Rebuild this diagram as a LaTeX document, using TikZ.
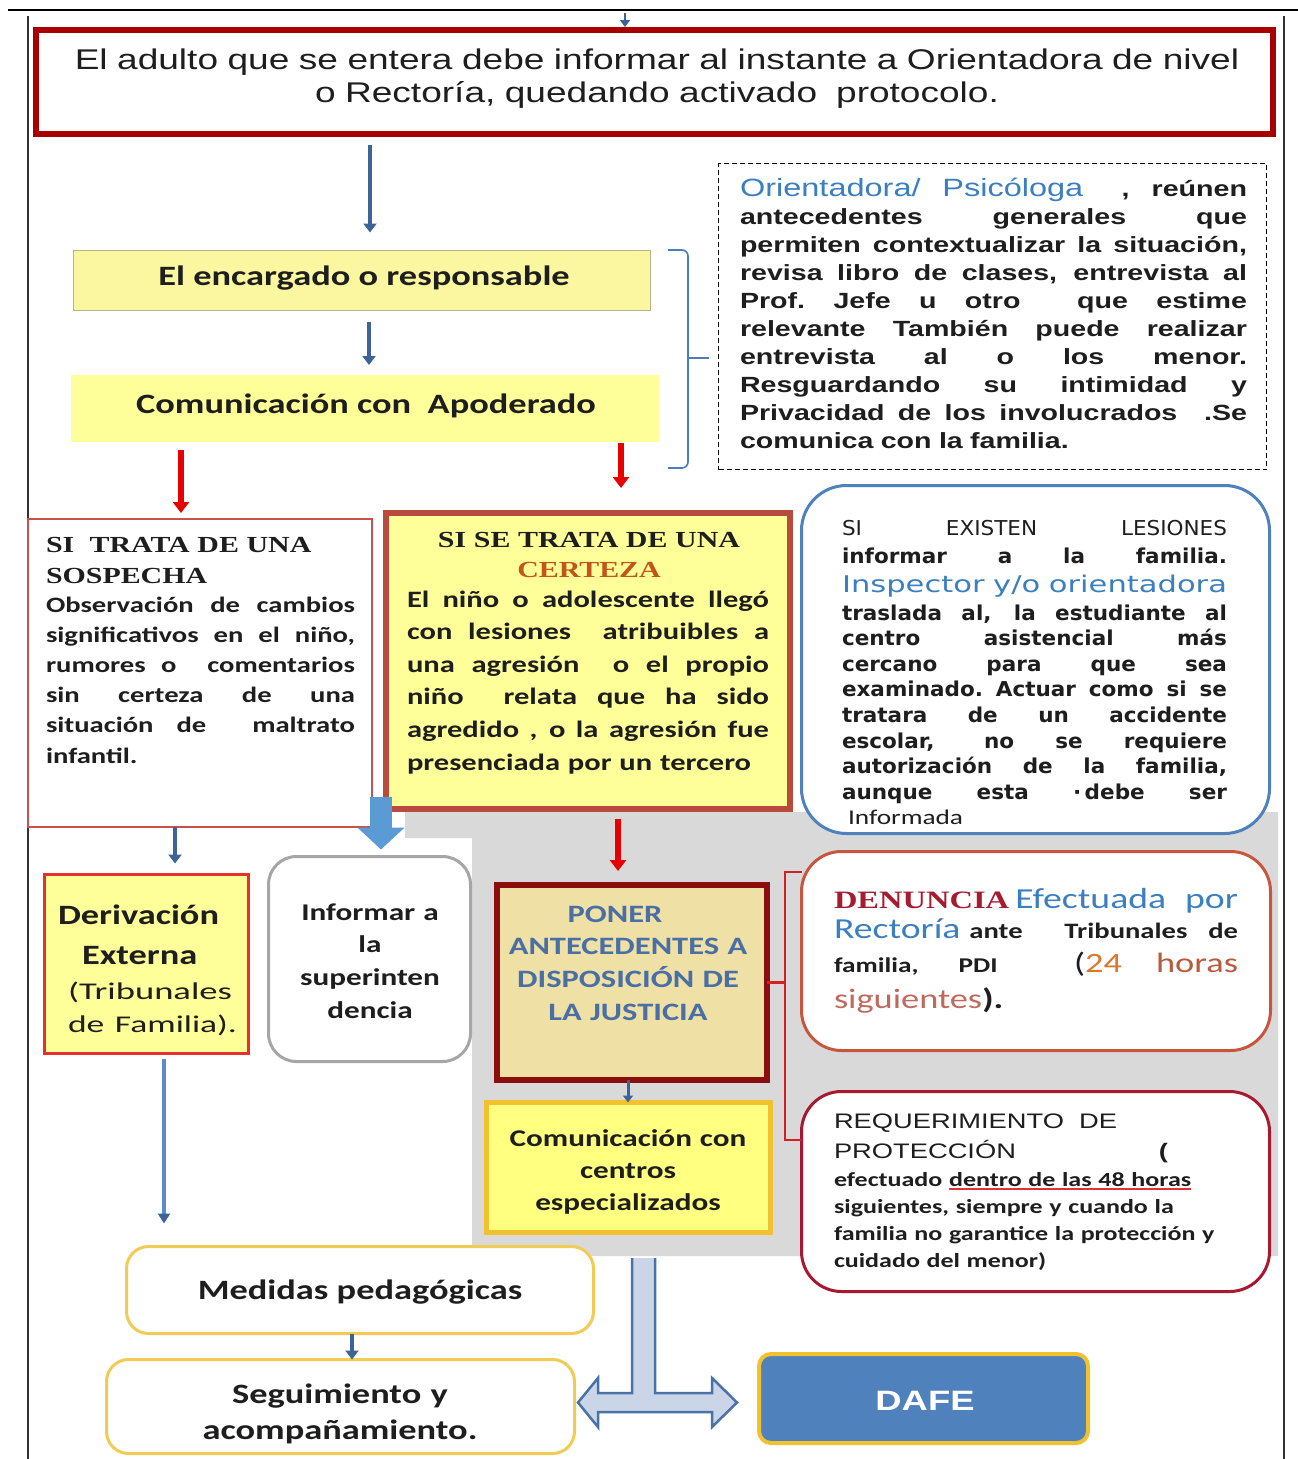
\documentclass[tikz,border=0pt]{standalone}
\usepackage{fontspec}
\usepackage{graphicx}
\usetikzlibrary{arrows.meta,calc}
\setmainfont{Liberation Sans}
\newfontfamily\fari[FakeStretch=1.3]{Liberation Sans}
\newfontfamily\fcal[FakeStretch=1.3]{Carlito}
\newfontfamily\ftim[FakeStretch=1.3]{Liberation Serif}
\newfontfamily\fdvs[FakeStretch=1.05]{DejaVu Sans}
\newcommand\fsz[2]{\fontsize{#1}{#2}\selectfont}
\newcommand\jl[1]{\makebox[\linewidth][s]{\spaceskip=0pt\xspaceskip=0pt #1}\\}
\newcommand\jls[2]{\makebox[\linewidth][s]{\spaceskip=0pt\xspaceskip=0pt #1}\\[#2]}
\definecolor{ulred}{HTML}{E0303A}
\definecolor{txt}{HTML}{1E1E1E}
\newsavebox\ulbox
\newcommand\redul[1]{\sbox\ulbox{#1}\rlap{\textcolor{ulred}{\rule[-3.5pt]{\wd\ulbox}{1.3pt}}}\usebox\ulbox}
\definecolor{dred}{HTML}{A80000}
\definecolor{yel}{HTML}{FFFF99}
\definecolor{yel2}{HTML}{FAF7A0}
\definecolor{encb}{HTML}{B4B48C}
\definecolor{steel}{HTML}{3C6496}
\definecolor{arred}{HTML}{E60000}
\definecolor{pinkred}{HTML}{C8504D}
\definecolor{certb}{HTML}{B84A3E}
\definecolor{bblue}{HTML}{4F81BD}
\definecolor{gry}{HTML}{D9D9D9}
\definecolor{dborder}{HTML}{E8302E}
\definecolor{infgray}{HTML}{A6A6A6}
\definecolor{ponfill}{HTML}{EFE1A6}
\definecolor{ponb}{HTML}{8C0D0D}
\definecolor{goldb}{HTML}{F2C12E}
\definecolor{cenfill}{HTML}{FFFF80}
\definecolor{denb}{HTML}{C8553D}
\definecolor{reqb}{HTML}{A81830}
\definecolor{medb}{HTML}{F2CB55}
\definecolor{txtblue}{HTML}{3C7FC0}
\definecolor{ponblue}{HTML}{4A6FA5}
\definecolor{certor}{HTML}{C0561A}
\definecolor{denred}{HTML}{A51C30}
\definecolor{hor}{HTML}{B85A3C}
\definecolor{org}{HTML}{D9772E}
\definecolor{sig}{HTML}{C06A5E}
\definecolor{tarrf}{HTML}{CAD6E8}
\definecolor{tarrd}{HTML}{4A72A8}
\definecolor{lblue}{HTML}{5B9BD5}
\definecolor{lineb}{HTML}{5B8BC9}
\definecolor{brb}{HTML}{4A7EBB}
\definecolor{rbr}{HTML}{D42020}
\begin{document}
\begin{tikzpicture}[x=1pt,y=-1pt,
  B/.style={inner sep=0pt,outer sep=0pt},
  T/.style={inner sep=0pt,outer sep=0pt,text=txt},
  TW/.style={inner sep=0pt,outer sep=0pt,text=txt,anchor=base west,align=left},
  arrB/.style={draw=steel,line width=4.5pt,-{Triangle[width=13pt,length=9pt]}},
  arrS/.style={draw=steel,line width=3pt,-{Triangle[width=10pt,length=7pt]}},
  arrR/.style={draw=arred,line width=5.5pt,-{Triangle[width=16pt,length=11pt]}},
]
\useasboundingbox (0,0) rectangle (1298,1459);
\fill[white] (0,0) rectangle (1298,1459);
% frame
\draw[line width=2.5pt,black] (8,10) -- (1298,10);
\draw[line width=2pt,black!80] (28,16) -- (28,1459);
\draw[line width=2pt,black!80] (1284,16) -- (1284,1459);
% gray region
\fill[gry] (405,812) -- (1278,812) -- (1278,1256) -- (472,1256) -- (472,838) -- (405,838) -- cycle;

% boxes
\node[B,draw=dred,line width=6pt,fill=white,minimum width=1237pt,minimum height=104pt] (top) at (654.5,82) {};
\node[B,fill=yel2,draw=encb,line width=1.5pt,minimum width=577pt,minimum height=60pt] (enc) at (362,280.5) {};
\node[B,fill=yel,minimum width=588pt,minimum height=67pt] (apo) at (365,408.5) {};
\node[B,draw=black,line width=1.6pt,dash pattern=on 5pt off 3pt,minimum width=548pt,minimum height=306pt] (dash) at (992.5,316.5) {};
\node[B,fill=white,draw=pinkred,line width=2pt,minimum width=344pt,minimum height=308pt] (sosp) at (200,673) {};
\node[B,fill=yel,draw=certb,line width=6pt,minimum width=404pt,minimum height=296pt] (cert) at (588,661) {};
\node[B,fill=white,draw=bblue,line width=3pt,rounded corners=45pt,minimum width=468pt,minimum height=348pt] (les) at (1035.5,659.5) {};
\node[B,fill=yel,draw=dborder,line width=3pt,minimum width=204pt,minimum height=179pt] (deriv) at (146.5,964) {};
\node[B,fill=white,draw=infgray,line width=3pt,rounded corners=28pt,minimum width=202pt,minimum height=205pt] (inf) at (369.5,959) {};
\node[B,fill=ponfill,draw=ponb,line width=5.5pt,minimum width=270pt,minimum height=195pt] (poner) at (632,982.5) {};
\node[B,fill=cenfill,draw=goldb,line width=5pt,minimum width=284pt,minimum height=130pt] (centros) at (628.5,1167.5) {};
\node[B,fill=white,draw=denb,line width=3pt,rounded corners=40pt,minimum width=469pt,minimum height=199pt] (denun) at (1036,951) {};
\node[B,fill=white,draw=reqb,line width=3pt,rounded corners=40pt,minimum width=468pt,minimum height=200pt] (req) at (1035.5,1191.5) {};
\node[B,fill=white,draw=medb,line width=3pt,rounded corners=22pt,minimum width=467pt,minimum height=87pt] (medidas) at (360,1290) {};
\node[B,fill=white,draw=medb,line width=3pt,rounded corners=22pt,minimum width=468pt,minimum height=94pt] (seg) at (340.5,1406.5) {};
\node[B,fill=bblue,draw=goldb,line width=4pt,rounded corners=12pt,minimum width=329pt,minimum height=89pt] (dafe) at (923.5,1398.5) {};

% connectors
\coordinate (tin) at (625,13);
\draw[arrS,line width=2pt,shorten >=3pt] (tin) -- (tin |- top.north);
\draw[arrB] ($(top.south -| enc.north)+(8,11)$) -- ($(enc.north)+(8,-18)$);
\draw[arrB] ($(enc.south)+(7,11)$) -- ($(apo.north)+(4,-10)$);
\draw[arrR] ($(apo.south -| sosp.north)+(-19,8)$) -- ($(sosp.north)+(-19,-6)$);
\draw[arrR] ($(apo.south -| cert.north)+(33,1)$) -- ($(cert.north)+(33,-25)$);
\draw[arrB] ($(sosp.south -| deriv.north)+(28.5,0)$) -- ($(deriv.north)+(28.5,-11)$);
\draw[draw=lblue,line width=22pt,-{Triangle[width=46pt,length=22pt]}] ($(sosp.south)+(181,-30)$) -- ($(inf.north)+(11.5,-7)$);
\draw[arrR] ($(cert.south -| poner.north)+(-14,10)$) -- ($(poner.north)+(-14,-14)$);
\draw[draw=lineb,line width=3.5pt,-{Triangle[width=12pt,length=10pt,color=steel]}] ($(deriv.south)+(17.5,5)$) -- ($(medidas.north -| deriv.south)+(17.5,-23)$);
\draw[arrS] ($(poner.south)+(-4,0)$) -- ($(centros.north)+(-0.5,0)$);
\draw[arrB] ($(medidas.south)+(-8,0)$) -- ($(seg.north -| medidas.south)+(-8,0)$);
% blue bracket
\coordinate (bb1) at (668,250);
\coordinate (bb2) at (668,468);
\coordinate (bbm) at (688,358);
\draw[brb,line width=1.6pt,rounded corners=6pt] (bb1) -- ++(20,0) -- ($(bb2)+(20,0)$) -- (bb2);
\draw[brb,line width=1.6pt] (bbm) -- ($(bbm -| dash.west)+(-10,0)$);
% red bracket
\coordinate (rb1) at (785,872);
\coordinate (rb2) at (785,1140);
\draw[rbr,line width=2.2pt] (rb1 -| denun.west) -- (rb1) -- (rb2) -- (rb2 -| req.west);
\draw[rbr,line width=2.2pt] (poner.east) -- (poner.east -| rb1);
% T double arrow
\filldraw[fill=tarrf,draw=tarrd,line width=2.5pt,line join=miter] (632,1258) -- (632,1393) -- (598,1393) -- (598,1378) -- (578,1402.5) -- (598,1427) -- (598,1412) -- (712,1412) -- (712,1427) -- (737,1402.5) -- (712,1378) -- (712,1393) -- (655,1393) -- (655,1258);

% texts
\node[T,anchor=base,text width=1243pt,align=center,font=\fari\fsz{28.5}{33}] (ttop) at (657,69) {El adulto que se entera debe informar al instante a Orientadora de nivel\\o Rectoría, quedando activado\ \ protocolo.};
\node[T,anchor=base,font=\fcal\bfseries\fsz{28}{34}] (tenc) at (364,285) {El encargado o responsable};
\node[T,anchor=base,font=\fcal\bfseries\fsz{28}{34}] (tapo) at (366,413) {Comunicación con\ \ Apoderado};

\node[TW,text width=507pt,font=\fari\bfseries\fsz{22}{28.1}] (tdash) at (740,196) {%
\jl{{\mdseries\color{txtblue}\fsz{25}{28.1}Orientadora/\ Psicóloga}\ \ , reúnen}%
\jl{antecedentes generales que}%
\jl{permiten contextualizar la situación,}%
\jl{revisa libro de clases, entrevista al}%
\jl{Prof.\ Jefe u otro\ \ que estime}%
\jl{relevante También puede realizar}%
\jl{entrevista al o los menor.}%
\jl{Resguardando su intimidad y}%
\jl{Privacidad de los involucrados\ \ .Se}%
comunica con la familia.};

\node[TW,text width=309pt,font=\ftim\bfseries\fsz{23}{31}] (tsos1) at (46,552) {SI\ \ TRATA DE UNA\\SOSPECHA};
\node[TW,text width=309pt,font=\fcal\bfseries\fsz{22}{30.2}] (tsos2) at (46,612) {%
\jl{Observación de cambios}%
\jl{significativos en el niño,}%
\jl{rumores o\ \ comentarios}%
\jl{sin certeza de una}%
\jl{situación de\ \ maltrato}%
infantil.};

\node[T,anchor=base,text width=410pt,align=center,font=\ftim\bfseries\fsz{23}{30}] (tcer1) at (589,547) {SI SE TRATA DE UNA\\\textcolor{certor}{CERTEZA}};
\node[TW,text width=362pt,font=\fcal\bfseries\fsz{23.5}{32.6}] (tcer2) at (407,607) {%
\jl{El niño o adolescente llegó}%
\jl{con lesiones\ \ atribuibles a}%
\jl{una agresión\ \ o el propio}%
\jl{niño\ \ relata que ha sido}%
\jl{agredido , o la agresión fue}%
presenciada por un tercero};

\node[TW,text width=385pt,font=\fdvs\bfseries\fsz{20.5}{25.6}] (tles) at (842,535) {%
\jls{{\mdseries\fsz{20.5}{25.6}SI EXISTEN LESIONES}}{2.4pt}%
\jls{informar a la familia.}{3.4pt}%
\resizebox{\linewidth}{\height}{\mdseries\color{txtblue}\fsz{23}{25.6}Inspector y/o orientadora}\\[2.4pt]%
\jl{traslada al, la estudiante al}%
\jl{centro asistencial más}%
\jl{cercano para que sea}%
\jl{examinado.\ Actuar como si se}%
\jl{tratara de un accidente}%
\jl{escolar, no se requiere}%
\jl{autorización de la familia,}%
\jl{aunque esta ·\,debe ser}%
{\fcal\mdseries\fsz{21}{25.6}\hspace*{6pt}Informada}};

\node[TW,text width=200pt,font=\fcal\bfseries\fsz{28}{40}] (tder) at (58,924) {%
Derivación\\%
\hspace*{24pt}Externa\\[-5pt]%
\hspace*{10pt}{\mdseries\fsz{24}{40}\resizebox{164pt}{\height}{(Tribunales}}\\[-7pt]%
\hspace*{10pt}{\mdseries\fsz{24}{40}\resizebox{169pt}{\height}{de Familia).}}};

\node[T,anchor=base,text width=205pt,align=center,font=\fcal\bfseries\fsz{24}{32.7}] (tinf) at (370,920) {Informar a\\la\\superinten\\dencia};

\node[T,anchor=base,text width=276pt,align=center,text=ponblue,font=\fcal\bfseries\fsz{25}{32.7}] (tpon) at (628,922) {\hspace*{-26pt}PONER\\ANTECEDENTES A\\DISPOSICIÓN DE\\LA JUSTICIA};

\node[T,anchor=base,text width=289pt,align=center,font=\fcal\bfseries\fsz{24}{32}] (tcen) at (628,1146) {Comunicación con\\centros\\especializados};

\node[T,anchor=base west] (den1) at (834,908) {\makebox[404pt][s]{{\ftim\bfseries\fsz{25}{30}\color{denred}DENUNCIA} {\fcal\fsz{29}{30}\color{txtblue}Efectuada por}}};
\node[T,anchor=base west] (den2) at (834,938) {\makebox[404pt][s]{{\fcal\fsz{29}{30}\color{txtblue}Rectoría} {\fcal\bfseries\fsz{22}{30}ante\ \ Tribunales de}}};
\node[T,anchor=base west] (den3) at (834,972) {\makebox[404pt][l]{\fcal\bfseries\fsz{21}{30}familia,\hspace{40pt}PDI\hfill{\mdseries\fsz{28}{30}(\textcolor{org}{24}\hspace{34pt}\textcolor{hor}{horas}}}};
\node[T,anchor=base west] (den4) at (834,1008) {\fcal\fsz{28}{30}\textcolor{sig}{siguientes}\textbf{).}};

\node[T,anchor=base west,font=\fari\fsz{21}{26}] (req1) at (834,1128) {REQUERIMIENTO\ \ DE};
\node[T,anchor=base west,font=\fari\fsz{21}{26}] (req2) at (834,1158) {\makebox[334pt][l]{PROTECCIÓN\hfill\textbf{(}}};
\node[TW,text width=420pt,font=\fcal\bfseries\fsz{20}{27}] (req3) at (834,1186) {%
efectuado \redul{dentro de las 48 horas}\\%
siguientes, siempre y cuando la\\%
familia no garantice la protección y\\%
cuidado del menor)};

\node[T,anchor=base,font=\fcal\bfseries\fsz{28}{34}] (tmed) at (360,1299) {Medidas pedagógicas};
\node[T,anchor=base,text width=471pt,align=center,font=\fcal\bfseries\fsz{28}{36}] (tseg) at (340,1403) {Seguimiento y\\acompañamiento.};
\node[T,anchor=base,text=white,font=\fari\bfseries\fsz{28}{34}] (tdafe) at (925,1410) {DAFE};
\end{tikzpicture}
\end{document}
